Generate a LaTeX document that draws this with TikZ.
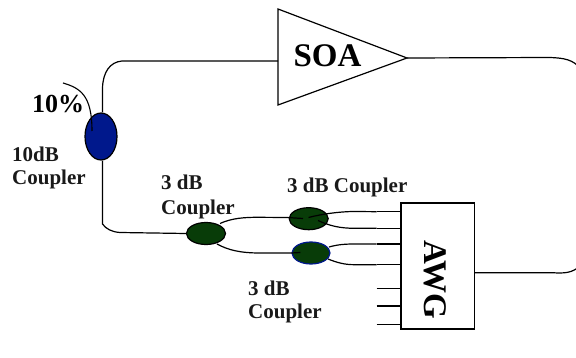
\documentclass[tikz,border=0pt]{standalone}
\usepackage{fontspec}
\setmainfont{Liberation Serif}
\usetikzlibrary{shapes.geometric,calc}
\definecolor{cblue}{RGB}{0,24,140}
\definecolor{cgreen}{RGB}{8,60,8}
\tikzset{
 fibre/.style={draw=black,line width=1.2pt},
 coupler/.style={ellipse,draw=black,line width=1.2pt,fill=cgreen,inner sep=0pt,minimum width=39pt,minimum height=22pt},
 lab/.style={font=\bfseries\fontsize{21}{23}\selectfont,align=left,inner sep=0pt,anchor=north west,text=black!90},
}
\begin{document}
\begin{tikzpicture}[x=1pt,y=-1pt]
\useasboundingbox (0,0) rectangle (576,358);
\clip (0,0) rectangle (576,358);
% amplifier
\coordinate (t1) at (278,9);
\coordinate (t2) at (278,105);
\coordinate (t3) at (407,58);
\coordinate (soaIn) at (278,61);
\draw[fibre,line join=miter] (t1) -- (t3) -- (t2) -- cycle;
\node[font=\bfseries\fontsize{33}{33}\selectfont,inner sep=0pt] (soa) at (327.5,56) {SOA};
% couplers
\node[ellipse,draw=black,line width=1.2pt,fill=cblue,inner sep=0pt,minimum width=32pt,minimum height=47pt] (c10) at (101,136.5) {};
\node[coupler] (c1) at (206,233.5) {};
\node[coupler] (c2) at (308.7,218.7) {};
\node[coupler,draw=cblue,minimum width=38pt] (c3) at (311,253) {};
% AWG
\node[draw=black,line width=1.2pt,fill=white,minimum width=73.5pt,minimum height=126pt,inner sep=0pt] (awg) at (437.7,266) {};
\node[rotate=-90,font=\bfseries\fontsize{33}{33}\selectfont,inner sep=0pt] (awgt) at (435,280) {AWG};
% loop
\draw[fibre] (soaIn) -- (122,61) .. controls (110,62) and (103,72) .. (102.5,88) -- (c10.north -| 102.5,0);
\draw[fibre] (t3) -- (550,57.5) .. controls (565,58) and (573,60) .. (580,68);
\coordinate (awgOut) at (awg.east |- 0,272.7);
\draw[fibre] (awgOut) -- (552,272.7) .. controls (565,273.5) and (572,273) .. (580,266);
\coordinate (tap) at (63,83);
\coordinate (tapEnd) at (92,131);
\draw[line width=1.1pt] (tap) .. controls (80,88) and (92,95) .. (tapEnd);
\draw[fibre] (c10.south -| 102.5,0) -- (102.5,224) .. controls (106,229) and (112,232) .. (120,232.5) -- (c1.west);
% coupler branches
\coordinate (a1) at (220,223.5);
\coordinate (a2) at (217,244);
\coordinate (d1) at (303,218.5);
\draw[fibre] (a1) .. controls (232,218) and (245,217.3) .. (258,217.3) -- (287,217.5) -- (d1);
\draw[fibre] (a2) .. controls (228,250) and (240,253) .. (260,253) -- (c3.west) -- ++(9,-0.5);
\coordinate (s1) at (376.7,211.7);
\coordinate (s2) at (376.7,228.3);
\coordinate (s3) at (376.7,244);
\coordinate (s4) at (376.7,264.7);
\coordinate (s5) at (376.7,288.3);
\coordinate (s6) at (376.7,306);
\coordinate (s7) at (376.7,324.7);
\draw[fibre] (s1) -- (s1 -| awg.west);
\draw[fibre] (s2) -- (s2 -| awg.west);
\draw[fibre] (s3) -- (s3 -| awg.west);
\draw[fibre] (s4) -- (s4 -| awg.west);
\draw[fibre] (s5) -- (s5 -| awg.west);
\draw[fibre] (s6) -- (s6 -| awg.west);
\draw[fibre] (s7) -- (s7 -| awg.west);
\coordinate (b1) at (308.5,217.5);
\coordinate (b2) at (318,220.5);
\coordinate (b4) at (329,247);
\coordinate (b5) at (328,259);
\draw[fibre] (b1) .. controls (322,214) and (340,211.5) .. (355,211.5) -- (s1);
\draw[fibre] (b2) .. controls (330,226) and (340,228.3) .. (355,228.3) -- (s2);
\draw[fibre] (b4) .. controls (338,244.5) and (345,244) .. (355,244) -- (s3);
\draw[fibre] (b5) .. controls (338,263) and (345,264.7) .. (355,264.7) -- (s4);
% labels
\node[font=\bfseries\fontsize{26}{26}\selectfont,inner sep=0pt] (pct) at (58,104) {10\%};
\node[lab] (l10) at (12,147) {10dB\\Coupler};
\node[lab,font=\bfseries\fontsize{21}{25}\selectfont] (l1) at (161,175) {3 dB\\Coupler};
\node[lab] (l2) at (287,178) {3 dB Coupler};
\node[lab] (l3) at (248,281) {3 dB\\Coupler};
\end{tikzpicture}
\end{document}
